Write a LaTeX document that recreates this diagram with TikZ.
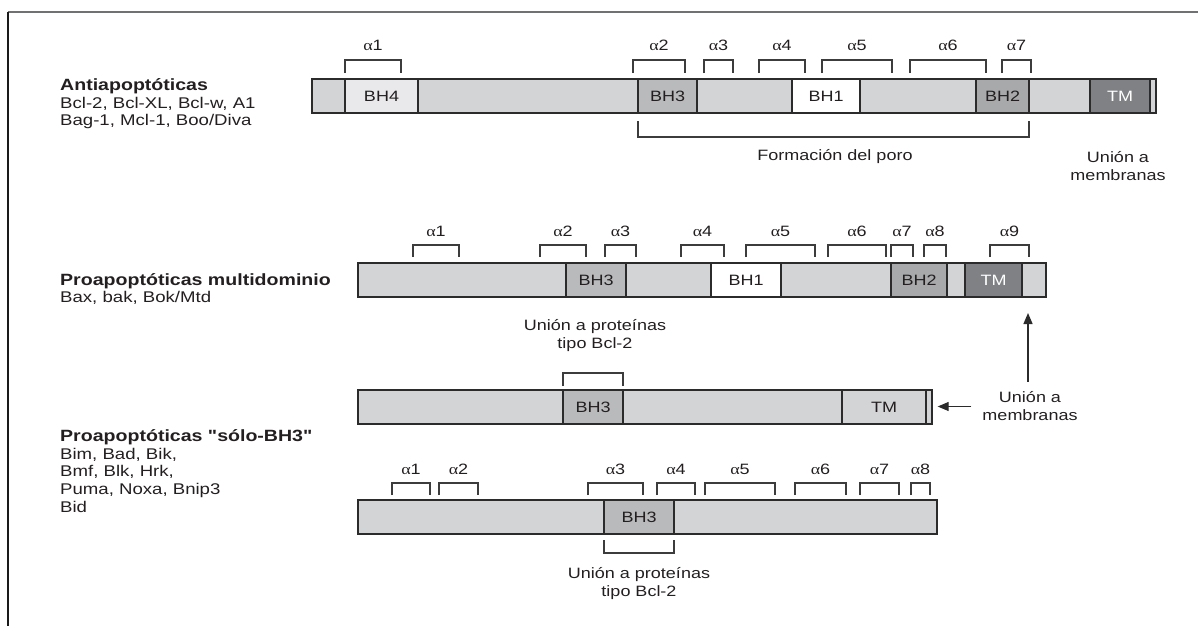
\documentclass[tikz,border=0pt]{standalone}
\usepackage{fontspec}
\setmainfont{Liberation Sans}[FakeStretch=1.2, Ligatures=TeXOff]
\newfontfamily\grk{Liberation Serif}[FakeStretch=1.2]
\usetikzlibrary{arrows.meta}

\definecolor{barfill}{HTML}{D3D4D6}
\definecolor{bhfour}{HTML}{E9E9EB}
\definecolor{bhthree}{HTML}{B9BABC}
\definecolor{bhtwo}{HTML}{A8A9AB}
\definecolor{tmfill}{HTML}{808184}
\definecolor{edge}{HTML}{2B2B2B}
\definecolor{brkcol}{HTML}{3C3C3C}
\definecolor{txtcol}{HTML}{231F20}
\definecolor{framegray}{HTML}{707172}
\definecolor{framedark}{HTML}{1A1A1A}

\newcommand{\famhead}[1]{{\fontsize{16.3}{17.6}\selectfont\bfseries #1}}

\tikzset{
  every node/.style={text=txtcol},
  bar/.style={draw=edge, line width=1.3pt, fill=barfill, minimum height=34pt, inner sep=0pt},
  dom/.style={bar, font=\fontsize{15}{18}\selectfont},
  brk/.style={draw=brkcol, line width=1.1pt},
  alab/.style={font=\fontsize{15}{18}\selectfont, inner sep=0pt},
  note/.style={font=\fontsize{15}{18}\selectfont, align=center, inner sep=0pt},
  grp/.style={font=\fontsize{15.5}{17.6}\selectfont, align=left, anchor=west, inner sep=0pt},
  arr/.style={draw=edge, line width=1.2pt, -{Triangle[length=11pt,width=9pt]}},
}

\begin{document}
\begin{tikzpicture}[x=1pt, y=-1pt]
  \useasboundingbox (0,0) rectangle (1198,626);

  % frame
  \draw[line width=1.2pt, draw=framegray] (8,12) -- (1198,12);
  \draw[line width=1.3pt, draw=framedark] (8,12) -- (8,626);

  % family labels
  \node[grp] (antilab) at (60,104) {\famhead{Antiapoptóticas}\\Bcl-2, Bcl-XL, Bcl-w, A1\\Bag-1, Mcl-1, Boo/Diva};
  \node[grp] (multilab) at (60,289) {\famhead{Proapoptóticas multidominio}\\Bax, bak, Bok/Mtd};
  \node[grp] (bhlab) at (60,471) {\famhead{Proapoptóticas "sólo-BH3"}\\Bim, Bad, Bik,\\Bmf, Blk, Hrk,\\Puma, Noxa, Bnip3\\Bid};

  % antiapoptoticas
  \node[bar, minimum width=844pt] (bar1) at (734,96) {};
  \node[dom, fill=bhfour, minimum width=73pt] (bh4a) at (381.5,96) {BH4};
  \node[dom, fill=bhthree, minimum width=59pt] (bh3a) at (667.5,96) {BH3};
  \node[dom, fill=white, minimum width=68pt] (bh1a) at (826,96) {BH1};
  \node[dom, fill=bhtwo, minimum width=53pt] (bh2a) at (1002.5,96) {BH2};
  \node[dom, fill=tmfill, text=white, minimum width=60pt] (tma) at (1120,96) {TM};
  \foreach \l/\r/\n in {345/401/1, 633/685/2, 704/733/3, 759/805/4, 822/892/5, 910/986/6, 1002/1031/7} {
    \draw[brk] (\l,73) |- (\r,60) -- (\r,73);
    \node[alab] (ra\n) at ({(\l+\r)/2},45) {{\grk α}\n};
  }
  \draw[brk] (638,121) |- (1029,137) -- (1029,121);
  \node[note] (poro) at (835,157) {Formación del poro};
  \node[note] (memb1) at (1118,166) {Unión a\\membranas};

  % multidominio
  \node[bar, minimum width=688pt] (bar2) at (702,280) {};
  \node[dom, fill=bhthree, minimum width=60pt] (bh3b) at (596,280) {BH3};
  \node[dom, fill=white, minimum width=70pt] (bh1b) at (746,280) {BH1};
  \node[dom, fill=bhtwo, minimum width=56pt] (bh2b) at (919,280) {BH2};
  \node[dom, fill=tmfill, text=white, minimum width=57pt] (tmb) at (993.5,280) {TM};
  \foreach \l/\r/\n in {413/459/1, 540/586/2, 605/636/3, 681/724/4, 746/815/5, 828/886/6, 891/913/7, 924/946/8, 990/1029/9} {
    \draw[brk] (\l,257) |- (\r,245) -- (\r,257);
    \node[alab] (rb\n) at ({(\l+\r)/2},231) {{\grk α}\n};
  }
  \node[note] (prot2) at (595,336) {Unión a proteínas\\tipo Bcl-2};

  % solo-BH3 con TM
  \node[bar, minimum width=574pt] (bar3) at (645,407) {};
  \node[dom, fill=bhthree, minimum width=60pt] (bh3c) at (593,407) {BH3};
  \node[dom, fill=barfill, minimum width=84pt] (tmc) at (884,407) {TM};
  \draw[brk] (563,386) |- (623,373) -- (623,386);
  \node[note] (memb3) at (1030,406.5) {Unión a\\membranas};
  \coordinate (memtip) at (1028,313);
  \draw[arr, shorten <=10pt] (memb3.north -| memtip) -- (memtip);
  \draw[arr, shorten <=11pt, shorten >=5pt] (memb3.west) -- (memb3.west -| bar3.east);

  % solo-BH3
  \node[bar, minimum width=579pt] (bar4) at (647.5,517) {};
  \node[dom, fill=bhthree, minimum width=70pt] (bh3d) at (639,517) {BH3};
  \foreach \l/\r/\n in {392/430/1, 439/478/2, 588/643/3, 657/695/4, 705/775/5, 795/846/6, 860/899/7, 911/930/8} {
    \draw[brk] (\l,495) |- (\r,483) -- (\r,495);
    \node[alab] (rd\n) at ({(\l+\r)/2},469) {{\grk α}\n};
  }
  \draw[brk] (604,540) |- (674,553) -- (674,540);
  \node[note] (prot4) at (639,584) {Unión a proteínas\\tipo Bcl-2};
\end{tikzpicture}
\end{document}
